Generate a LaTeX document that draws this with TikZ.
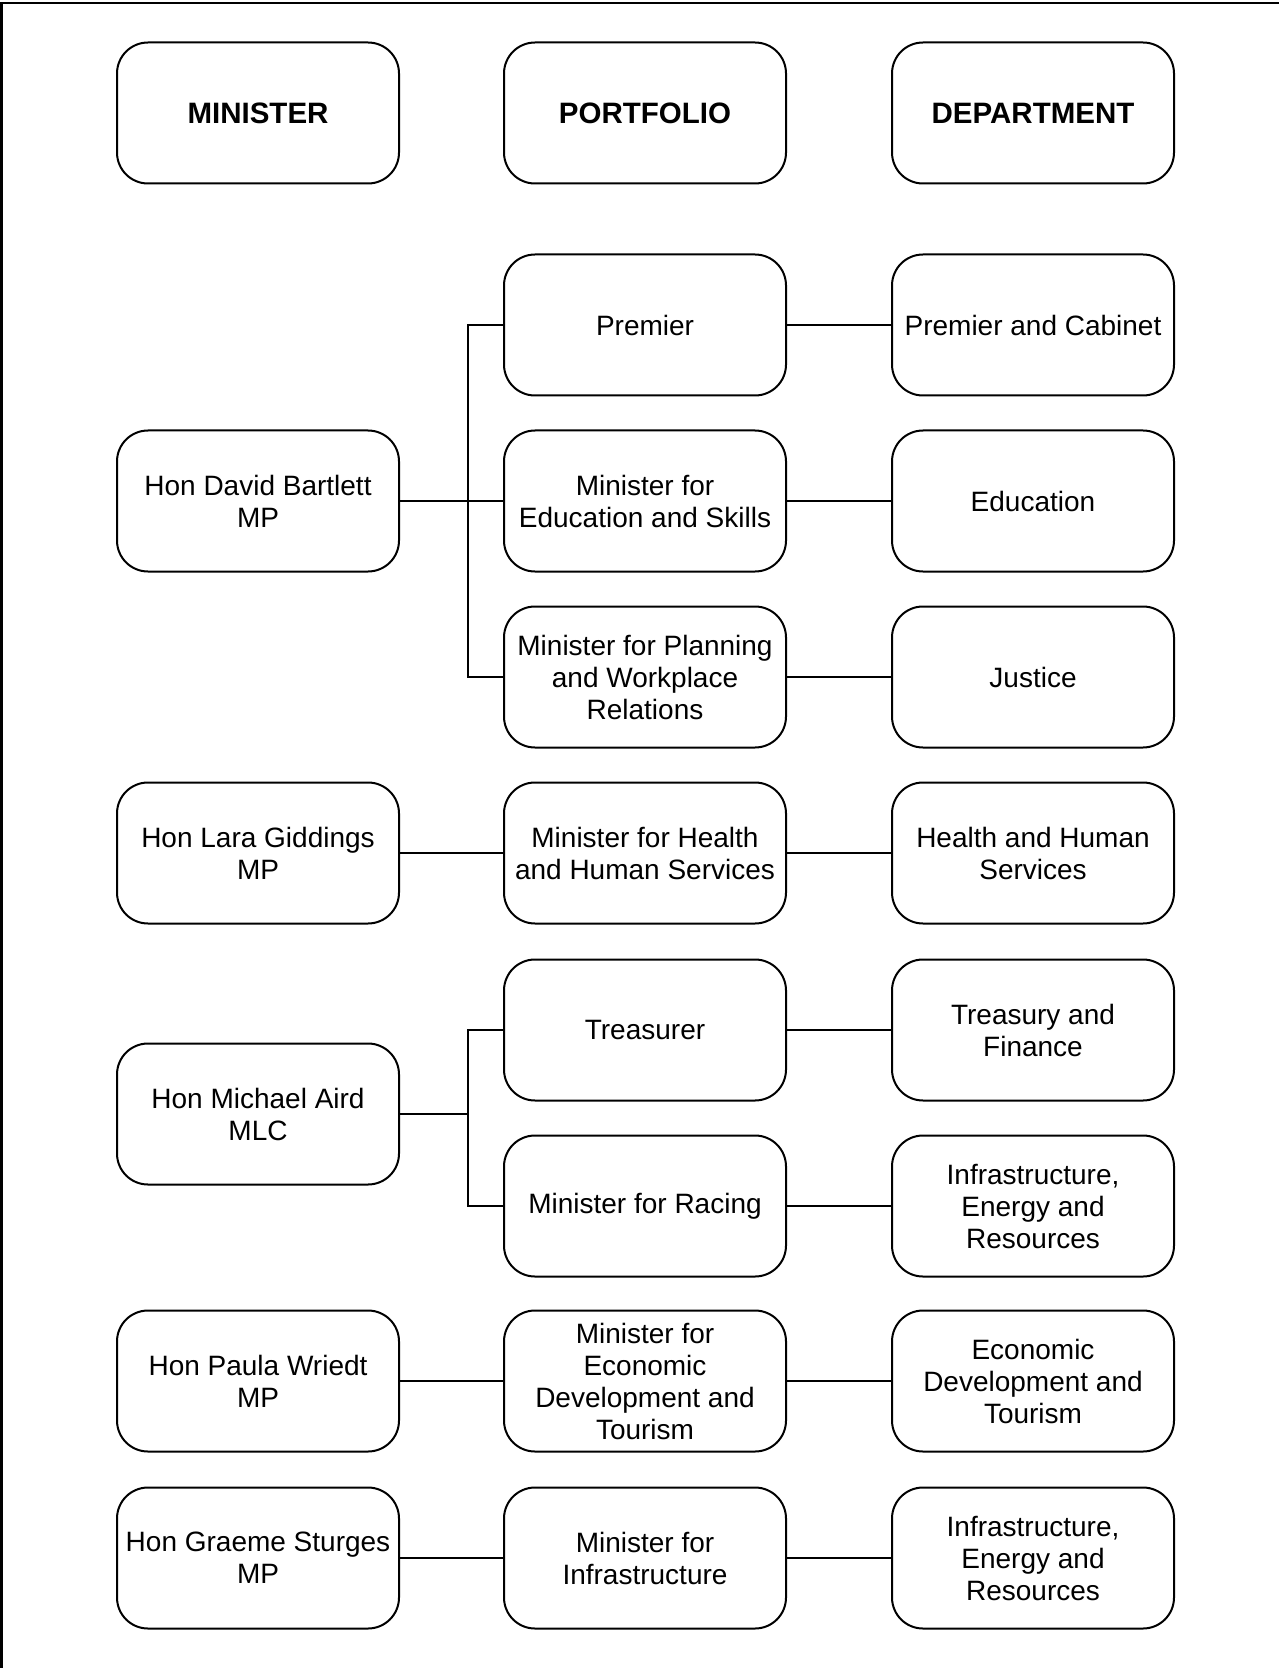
\documentclass[tikz,border=0pt]{standalone}
\usepackage{fontspec}
\setmainfont{Liberation Sans}

\begin{document}
\begin{tikzpicture}[x=0.5pt,y=-0.5pt,
        box/.style={draw,line width=1pt,rounded corners=15.5pt,minimum width=141pt,
            minimum height=70.5pt,align=center,inner sep=2pt,
            font=\fontsize{14}{16}\selectfont},
        head/.style={box,font=\fontsize{14.75}{17}\selectfont\bfseries},
        link/.style={line width=1pt}]
        \useasboundingbox (0,0) rectangle (1279,1668);
        \draw[line width=1.3pt] (1.5,1668) -- (1.5,3) -- (1279,3);
        \node[head] (hmin) at (258,113) {MINISTER};
        \node[head] (hpor) at (645,113) {PORTFOLIO};
        \node[head] (hdep) at (1033,113) {DEPARTMENT};
        \node[box] (bartlett) at (258,501) {Hon David Bartlett\\MP};
        \node[box] (giddings) at (258,853) {Hon Lara Giddings\\MP};
        \node[box] (aird) at (258,1114) {Hon Michael Aird\\MLC};
        \node[box] (wriedt) at (258,1381) {Hon Paula Wriedt\\MP};
        \node[box] (sturges) at (258,1558) {Hon Graeme Sturges\\MP};
        \node[box] (prem) at (645,325) {Premier};
        \node[box] (edu) at (645,501) {Minister for\\Education and Skills};
        \node[box] (plan) at (645,677) {Minister for Planning\\and Workplace\\Relations};
        \node[box] (health) at (645,853) {Minister for Health\\and Human Services};
        \node[box] (treas) at (645,1030) {Treasurer};
        \node[box] (racing) at (645,1206) {Minister for Racing};
        \node[box] (econ) at (645,1381) {Minister for\\Economic\\Development and\\Tourism};
        \node[box] (infra) at (645,1558) {Minister for\\Infrastructure};
        \node[box] (dpac) at (1033,325) {Premier and Cabinet};
        \node[box] (deducation) at (1033,501) {Education};
        \node[box] (djustice) at (1033,677) {Justice};
        \node[box] (dhhs) at (1033,853) {Health and Human\\Services};
        \node[box] (dtf) at (1033,1030) {Treasury and\\Finance};
        \node[box] (dier) at (1033,1206) {Infrastructure,\\Energy and\\Resources};
        \node[box] (dedt) at (1033,1381) {Economic\\Development and\\Tourism};
        \node[box] (dier2) at (1033,1558) {Infrastructure,\\Energy and\\Resources};
        \coordinate (busA) at (468,501);
        \coordinate (busB) at (468,1114);
        \draw[link] (bartlett.east) -- (busA);
        \draw[link] (prem.west) -| (busA) |- (plan.west);
        \draw[link] (edu.west) -- (busA);
        \draw[link] (aird.east) -- (busB);
        \draw[link] (treas.west) -| (busB) |- (racing.west);
        \draw[link] (giddings) -- (health);
        \draw[link] (wriedt) -- (econ);
        \draw[link] (sturges) -- (infra);
        \foreach \p/\d in {prem/dpac,edu/deducation,plan/djustice,health/dhhs,
            treas/dtf,racing/dier,econ/dedt,infra/dier2}
            \draw[link] (\p) -- (\d);
\end{tikzpicture}
\end{document}
